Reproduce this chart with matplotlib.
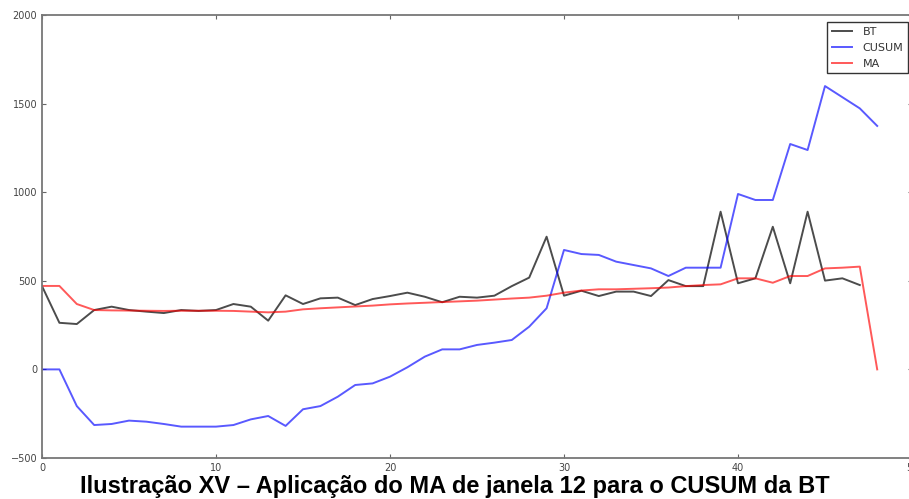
import numpy as np
import matplotlib.pyplot as plt

bt = [470, 263, 256, 335, 354, 335, 326, 318, 335, 330, 335, 369, 354, 275, 418,
      369, 401, 405, 363, 397, 414, 433, 410, 379, 410, 405, 416, 470, 518, 749,
      416, 444, 414, 439, 439, 414, 504, 470, 470, 890, 486, 514, 805, 486, 890,
      501, 514, 476]
cusum = [0, 0, -207, -314, -308, -289, -295, -308, -323, -323, -323, -314, -282,
         -263, -319, -225, -207, -154, -88, -79, -41, 12, 72, 113, 113, 138, 151,
         166, 241, 345, 674, 651, 646, 608, 589, 570, 527, 574, 574, 574, 990,
         956, 956, 1272, 1238, 1599, 1536, 1473, 1374]
ma = [471, 471, 369, 335, 333, 332, 331, 330, 331, 331, 331, 330, 326, 322, 326,
      339, 345, 350, 355, 360, 367, 372, 376, 380, 384, 388, 394, 400, 405, 416,
      433, 445, 452, 452, 455, 458, 462, 470, 476, 480, 514, 514, 489, 527, 527,
      570, 574, 580, 0]

caption = "Ilustração XV – Aplicação do MA de janela 12 para o CUSUM da BT"

fig = plt.figure(figsize=(9.09, 4.99), dpi=100)
ax = fig.add_axes([42/909, 41/499, 870/909, 443/499])

ax.plot(np.arange(len(bt)), bt, color='k', alpha=0.7, lw=1.4, label='BT')
ax.plot(np.arange(len(cusum)), cusum, color='b', alpha=0.65, lw=1.4, label='CUSUM')
ax.plot(np.arange(len(ma)), ma, color='r', alpha=0.65, lw=1.4, label='MA')

ax.set_xlim(0, 50)
ax.set_ylim(-500, 2000)
ax.set_xticks(range(0, 51, 10))
ax.set_yticks(range(-500, 2001, 500))
ax.tick_params(direction='in', top=True, right=True, labelsize=7,
               labelcolor='#444444', color='#666666', length=3)
for s in ax.spines.values():
    s.set_color('#777777')
    s.set_linewidth(1.3)

leg = ax.legend(loc='upper right', bbox_to_anchor=(0.9954, 0.984),
                fontsize=8, fancybox=False, framealpha=1, borderaxespad=0,
                handlelength=1.8, handletextpad=1.0, labelspacing=0.55)
leg.get_frame().set_edgecolor('#333333')
for t in leg.get_texts():
    t.set_color('#333333')

# caption sits right under the axis labels
fig.text(0.5, 0.013, caption, ha='center', va='baseline', fontsize=17,
         fontweight='bold', family='Liberation Sans')

fig.savefig('out.png', dpi=100)
